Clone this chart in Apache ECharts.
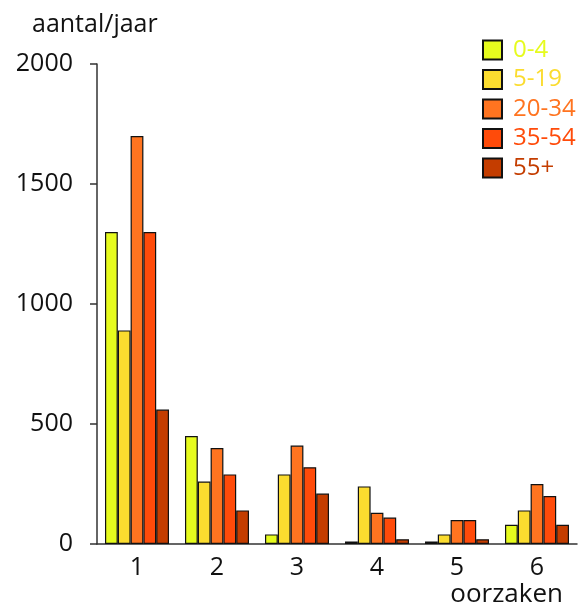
<!DOCTYPE html>
<html><head><meta charset="utf-8">
<script src="https://cdn.jsdelivr.net/npm/echarts@6/dist/echarts.min.js"></script>
<style>html,body{margin:0;padding:0;background:#fff}#c{width:581px;height:602px}</style>
</head><body><div id="c"></div>
<script>
const categories = ['1','2','3','4','5','6'];
const seriesNames = ['0-4','5-19','20-34','35-54','55+'];
const v0_4   = [1300, 450, 40, 10, 10, 80];
const v5_19  = [890, 260, 290, 240, 40, 140];
const v20_34 = [1700, 400, 410, 130, 100, 250];
const v35_54 = [1300, 290, 320, 110, 100, 200];
const v55    = [560, 140, 210, 20, 20, 80];
const colors = ['#e6fb1e','#fbdc2f','#ff7420','#ff4b0a','#c43d00'];
const yTicks = [0, 500, 1000, 1500, 2000];

const values = [v0_4, v5_19, v20_34, v35_54, v55];
const FF = '"Open Sans", sans-serif';
const chart = echarts.init(document.getElementById('c'), null, {renderer:'canvas'});
chart.setOption({
  animation:false,
  title:[
    {text:'aantal/jaar', left:27, top:7, textStyle:{fontFamily:FF, fontSize:25, fontWeight:'normal', color:'#111'}},
    {text:'oorzaken', right:13, top:577, textStyle:{fontFamily:FF, fontSize:26, fontWeight:'normal', color:'#111'}}
  ],
  legend:{
    orient:'vertical', left:477, top:33, itemWidth:19, itemHeight:19, itemGap:5.5,
    icon:'rect',
    data: seriesNames.map((n,i)=>({name:n, textStyle:{color:colors[i]}})),
    textStyle:{fontFamily:FF, fontSize:24, padding:[0,0,0,6]}
  },
  grid:{left:97, top:64, right:4, bottom:58, containLabel:false},
  xAxis:{
    type:'category', data:categories,
    axisLine:{lineStyle:{color:'#333', width:1.5}},
    axisTick:{length:8, lineStyle:{color:'#333', width:1.5}},
    axisLabel:{fontFamily:FF, fontSize:25, color:'#111', margin:11}
  },
  yAxis:{
    type:'value', min:yTicks[0], max:yTicks[yTicks.length-1], interval:500,
    axisLine:{show:true, lineStyle:{color:'#333', width:1.5}},
    axisTick:{show:true, length:7, lineStyle:{color:'#333', width:1.5}},
    axisLabel:{fontFamily:FF, fontSize:25, color:'#111', margin:24, formatter:(v)=>String(v)},
    splitLine:{show:false}
  },
  series: seriesNames.map((n,i)=>({
    name:n, type:'bar', data:values[i], barGap:0, barCategoryGap:'20%',
    itemStyle:{color:colors[i], borderColor:'#111', borderWidth:1.2}
  }))
});
</script></body></html>
